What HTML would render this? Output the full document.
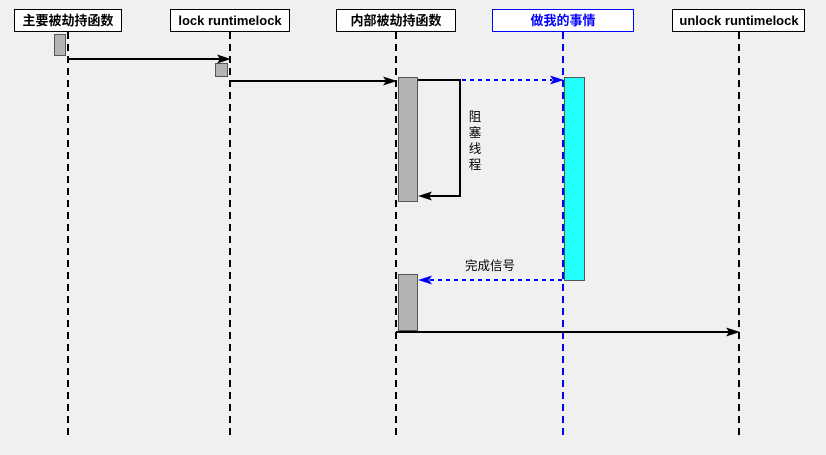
<!DOCTYPE html>
<html><head><meta charset="utf-8"><style>
html,body{margin:0;padding:0;background:#f0f0f0;}
svg{display:block;}
text{font-family:"Liberation Sans","Noto Sans CJK SC",sans-serif;}
</style></head><body>
<svg width="826" height="455" viewBox="0 0 826 455" xmlns="http://www.w3.org/2000/svg">
<rect width="826" height="455" fill="#f0f0f0"/>
<!-- lifelines -->
<g stroke="#000" stroke-width="2" stroke-dasharray="7,5" fill="none">
<line x1="68" y1="32" x2="68" y2="438"/>
<line x1="230" y1="32" x2="230" y2="438"/>
<line x1="396" y1="32" x2="396" y2="438"/>
<line x1="739" y1="32" x2="739" y2="438"/>
</g>
<line x1="563" y1="32" x2="563" y2="438" stroke="#0000ff" stroke-width="2" stroke-dasharray="7,5"/>
<!-- header boxes -->
<g stroke="#000" stroke-width="1" fill="#fff">
<rect x="14.5" y="9.5" width="107" height="22"/>
<rect x="170.5" y="9.5" width="119" height="22"/>
<rect x="336.5" y="9.5" width="119" height="22"/>
<rect x="672.5" y="9.5" width="132" height="22"/>
</g>
<rect x="492.5" y="9.5" width="141" height="22" fill="#fff" stroke="#0000ff" stroke-width="1"/>
<g font-size="13" font-weight="bold" text-anchor="middle" fill="#000">
<text x="68" y="25">主要被劫持函数</text>
<text x="230" y="25">lock runtimelock</text>
<text x="396" y="25">内部被劫持函数</text>
<text x="563" y="25" fill="#0000ff">做我的事情</text>
<text x="739" y="25">unlock runtimelock</text>
</g>
<!-- activations -->
<g stroke="#555" stroke-width="1" fill="#b4b4b4">
<rect x="54.5" y="34.5" width="11" height="21"/>
<rect x="215.5" y="63.5" width="12" height="13"/>
<rect x="398.5" y="77.5" width="19" height="124"/>
<rect x="398.5" y="274.5" width="19" height="56"/>
</g>
<rect x="564.5" y="77.5" width="20" height="203" fill="#22ffff" stroke="#555" stroke-width="1"/>
<!-- messages -->
<g stroke="#000" stroke-width="2" fill="none">
<line x1="68" y1="59" x2="220" y2="59"/>
<line x1="230" y1="81" x2="386" y2="81"/>
<polyline points="418,80 460,80 460,196 428,196"/>
<line x1="396" y1="332" x2="729" y2="332"/>
</g>
<g fill="#000">
<polygon points="231,59 217,54.5 220,59 217,63.5"/>
<polygon points="397,81 383,76.5 386,81 383,85.5"/>
<polygon points="418,196 432,191.5 429,196 432,200.5"/>
<polygon points="740,332 726,327.5 729,332 726,336.5"/>
</g>
<g stroke="#0000ff" stroke-width="2" stroke-dasharray="4,4" fill="none">
<line x1="462" y1="80" x2="552" y2="80"/>
<line x1="562" y1="280" x2="430" y2="280"/>
</g>
<g fill="#0000ff">
<polygon points="564,80 550,75.5 553,80 550,84.5"/>
<polygon points="418,280 432,275.5 429,280 432,284.5"/>
</g>
<!-- labels -->
<g font-size="12.5" fill="#000" text-anchor="middle">
<text x="475" y="121">阻</text>
<text x="475" y="137">塞</text>
<text x="475" y="153">线</text>
<text x="475" y="169">程</text>
<text x="490" y="270">完成信号</text>
</g>
</svg>
</body></html>
